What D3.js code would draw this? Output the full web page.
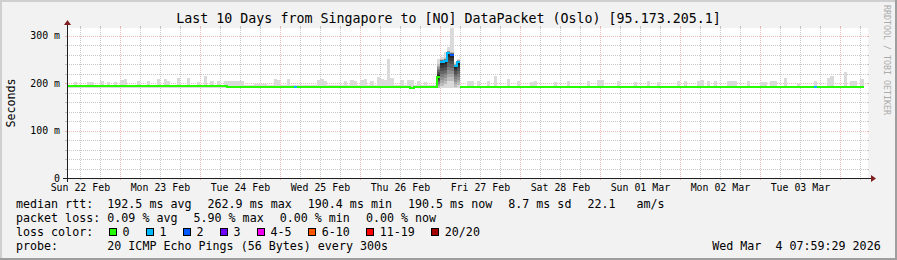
<!DOCTYPE html>
<html>
<head>
<meta charset="utf-8">
<script src="https://cdn.jsdelivr.net/npm/d3@7"></script>
<style>
  html, body { margin: 0; padding: 0; background: #f2f2f2; }
  svg { display: block; font-family: "DejaVu Sans Mono", monospace; }
  text { white-space: pre; }
</style>
</head>
<body>
<svg id="chart" width="897" height="260"></svg>
<script>
const title = "Last 10 Days from Singapore to [NO] DataPacket (Oslo) [95.173.205.1]";
const rangeStart = "2026-02-22T07:59:29Z";
const rangeEnd = "2026-03-04T07:59:29Z";

// hourly median rtt (ms), one row per day starting at rangeStart
const medianMs = [
  193,193,193,193,193,193,193,193,193,193,193,193,193,193,193,193,193,193,193,193,193,193,193,193,
  193,193,193,193,193,193,193,193,193,193,193,193,193,193,193,193,193,193,193,193,193,193,193,193,
  192.5,192.5,192.5,192.5,192.5,192.5,192.5,192.5,192.5,192.5,192.5,192.5,192.5,192.5,192.5,192.5,192.5,192.5,192.5,192.5,192.5,192.5,192.5,192.5,
  192.5,192.5,192.5,192.5,192.5,192.5,192.5,192.5,192.5,192.5,192.5,192.5,192.5,192.5,192.5,192.5,192.5,192.5,192.5,192.5,192.5,192.5,192.5,192.5,
  192.5,192.5,192.5,192.5,192.5,192.5,192.5,189.5,192.5,192.5,192.5,192.5,192.5,192.5,192.5,213,245,246,263,260,236,245,191.5,191.5,
  191.5,191.5,191.5,191.5,191.5,191.5,191.5,191.5,191.5,191.5,191.5,191.5,191.5,191.5,191.5,191.5,191.5,191.5,191.5,191.5,191.5,191.5,191.5,191.5,
  191.5,191.5,191.5,191.5,191.5,191.5,191.5,191.5,191.5,191.5,191.5,191.5,191.5,191.5,191.5,191.5,191.5,191.5,191.5,191.5,191.5,191.5,191.5,191.5,
  191.5,191.5,191.5,191.5,191.5,191.5,191.5,191.5,191.5,191.5,191.5,191.5,191.5,191,191,191,191,191,191,191,191,191,191,191,
  191,191,191,191,191,191,191,191,191,191,191,191,191,191,191,191,191,191,191,191,191,191,191,191,
  191,191,191,191,191,191,191,191,191,191,191,191,191,191,191,191,191,191,191,191,191,191,191
];

// hourly max ping (top of the light smoke), ms
const smokeHiMs = [
  195,195,202,195,195,195,202,202,195,195,204,195,202,195,202,195,206,209,195,195,195,204,195,195,
  204,195,195,208,195,208,204,195,195,211,195,195,211,195,195,202,195,215,195,205,195,204,195,205,
  204,204,205,204,204,195,195,195,198,198,198,198,195,195,208,206,195,195,208,195,195,195,195,195,
  195,195,195,206,208,204,195,195,195,195,195,204,195,206,204,195,206,208,195,204,195,213,208,206,
  251,211,195,195,206,195,206,206,195,204,195,202,195,195,195,250,255,265,275,316,245,250,193,193,
  204,204,193,204,193,193,205,193,215,193,193,193,208,193,193,204,193,193,193,203,204,193,193,193,
  193,193,203,193,193,193,204,193,193,193,193,193,204,193,193,206,206,193,193,193,193,204,193,193,
  193,193,203,193,193,193,204,193,193,203,193,193,193,193,193,204,193,205,193,193,193,204,206,193,
  204,193,204,193,193,193,204,204,204,193,193,193,205,193,193,193,202,202,193,205,205,193,193,211,
  193,193,193,198,193,193,193,193,204,193,193,193,210,215,193,193,193,223,193,204,204,193,208
];
const smokeFloorMs = 189;

// dark smoke core during the spike
const coreHours = [111, 112, 113, 114, 115, 116, 117];
const coreLoMs = [190, 193, 198, 205, 205, 192, 195];
const coreHiMs = [240, 250, 252, 268, 265, 240, 248];

// hours with packet loss (pings lost out of 20)
const lossHours = [68, 112, 113, 114, 115, 116, 117, 224];
const lossCounts = [1, 1, 1, 1, 2, 1, 1, 1];

const yTickValues = [0, 100, 200, 300];
const yTickLabels = ["0", "100 m", "200 m", "300 m"];

const lossLabels = ["0", "1", "2", "3", "4-5", "6-10", "11-19", "20/20"];
const lossColors = ["#26ff00", "#00b8ff", "#0059ff", "#7000ff", "#f000f0", "#ff5500", "#ff0000", "#a00000"];

const rttStats = ["192.5 ms avg", "262.9 ms max", "190.4 ms min", "190.5 ms now", "8.7 ms sd", "22.1   am/s"];
const lossStats = ["0.09 % avg", "5.90 % max", "0.00 % min", "0.00 % now"];
const probeText = "20 ICMP Echo Pings (56 Bytes) every 300s";
const stamp = "Wed Mar  4 07:59:29 2026";

// ---------------------------------------------------------------
const W = 897, H = 260;
const X0 = 67, X1 = 867, Y0 = 178, Y1 = 28;
const CW = 7.02; // mono char advance at legend size
const px = v => Math.round(v) + 0.5;

const t0 = new Date(rangeStart), t1 = new Date(rangeEnd);
const hourT = i => d3.utcHour.offset(t0, i);

const x = d3.scaleUtc().domain([t0, t1]).range([X0, X1]);
const y = d3.scaleLinear().domain([0, 316]).range([Y0, Y1]);

const lossByHour = new Map(lossHours.map((h, k) => [h, lossCounts[k]]));
const lossColor = n => n === 0 ? lossColors[0] : n <= 3 ? lossColors[n] : n <= 5 ? lossColors[4] :
  n <= 10 ? lossColors[5] : n <= 19 ? lossColors[6] : lossColors[7];

const svg = d3.select("#chart");

// frame
svg.append("rect").attr("width", W).attr("height", H).attr("fill", "#f2f2f2");
svg.append("rect").attr("x", 0).attr("y", 0).attr("width", W).attr("height", 2).attr("fill", "#cfcfcf");
svg.append("rect").attr("x", 0).attr("y", 0).attr("width", 2).attr("height", H).attr("fill", "#cfcfcf");
svg.append("rect").attr("x", 0).attr("y", H - 2).attr("width", W).attr("height", 2).attr("fill", "#9e9e9e");
svg.append("rect").attr("x", W - 2).attr("y", 0).attr("width", 2).attr("height", H).attr("fill", "#9e9e9e");

// canvas
svg.append("rect").attr("x", X0).attr("y", Y1).attr("width", X1 - X0 + 1).attr("height", Y0 - Y1 + 1)
  .attr("fill", "#ffffff");

// grid
const grid = svg.append("g").attr("shape-rendering", "crispEdges");
const minorCol = "rgba(143,143,143,0.5)", majorCol = "rgba(222,79,79,0.4)";

const hVals = d3.range(20, 316, 20);
hVals.forEach(v => {
  const col = v % 100 === 0 ? majorCol : minorCol;
  const yy = px(y(v));
  grid.append("line").attr("x1", X0).attr("x2", X1).attr("y1", yy).attr("y2", yy)
    .attr("stroke", col).attr("stroke-dasharray", "1,1");
  grid.append("line").attr("x1", X0 - 2).attr("x2", X0).attr("y1", yy).attr("y2", yy).attr("stroke", col);
  grid.append("line").attr("x1", X1).attr("x2", X1 + 2).attr("y1", yy).attr("y2", yy).attr("stroke", col);
});

const days = d3.utcDay.range(t0, t1);
const sixHours = d3.utcHour.every(6).range(t0, t1).filter(d => d.getUTCHours() !== 0);
[[sixHours, minorCol], [days, majorCol]].forEach(([ts, col]) => {
  ts.forEach(d => {
    const xx = px(x(d));
    grid.append("line").attr("x1", xx).attr("x2", xx).attr("y1", Y1).attr("y2", Y0)
      .attr("stroke", col).attr("stroke-dasharray", "1,1");
    grid.append("line").attr("x1", xx).attr("x2", xx).attr("y1", Y0).attr("y2", Y0 + 2).attr("stroke", col);
    grid.append("line").attr("x1", xx).attr("x2", xx).attr("y1", Y1 - 2).attr("y2", Y1).attr("stroke", col);
  });
});

// smoke
const smoke = svg.append("g").attr("shape-rendering", "crispEdges");
smoke.selectAll("rect.outer")
  .data(smokeHiMs)
  .join("rect")
    .attr("class", "outer")
    .attr("x", (d, i) => Math.round(x(hourT(i))))
    .attr("width", (d, i) => Math.round(x(hourT(i + 1))) - Math.round(x(hourT(i))))
    .attr("y", d => Math.round(y(d)))
    .attr("height", d => Math.max(0, Math.round(y(smokeFloorMs)) - Math.round(y(d))))
    .attr("fill", "#dadada");

const layers = 8;
const shade = d3.scaleLinear().domain([0, layers - 1]).range(["#bcbcbc", "#262626"]);
coreHours.forEach((h, k) => {
  const med = medianMs[h];
  for (let l = 0; l < layers; l++) {
    const lo = coreLoMs[k] + (med - coreLoMs[k]) * l / layers;
    const hi = coreHiMs[k] - (coreHiMs[k] - med) * l / layers;
    const xa = Math.round(x(hourT(h))), xb = Math.round(x(hourT(h + 1)));
    smoke.append("rect")
      .attr("x", xa).attr("width", xb - xa)
      .attr("y", Math.round(y(hi)))
      .attr("height", Math.max(1, Math.round(y(lo)) - Math.round(y(hi))))
      .attr("fill", shade(l));
  }
});

// median line, coloured by loss
const med = svg.append("g").attr("shape-rendering", "crispEdges");
medianMs.forEach((v, i) => {
  const c = lossColor(lossByHour.get(i) || 0);
  const xa = Math.round(x(hourT(i))), xb = Math.round(x(hourT(i + 1)));
  const yy = Math.round(y(v));
  med.append("rect").attr("x", xa).attr("width", xb - xa).attr("y", yy - 1).attr("height", 2).attr("fill", c);
  if (i > 0) {
    const pc = lossColor(lossByHour.get(i - 1) || 0);
    const py = Math.round(y(medianMs[i - 1]));
    if (pc === c && py !== yy) {
      med.append("rect").attr("x", xa - 1).attr("width", 2)
        .attr("y", Math.min(py, yy) - 1).attr("height", Math.abs(py - yy) + 2).attr("fill", c);
    }
  }
});

// axes
const axis = svg.append("g").attr("shape-rendering", "crispEdges");
axis.append("line").attr("x1", X0 - 4).attr("x2", X1 + 4).attr("y1", px(Y0)).attr("y2", px(Y0)).attr("stroke", "#1f1f1f");
axis.append("line").attr("x1", px(X0)).attr("x2", px(X0)).attr("y1", Y0 + 4).attr("y2", Y1 - 4).attr("stroke", "#1f1f1f");
svg.append("path").attr("fill", "#801f1f")
  .attr("d", `M${X1 + 4},${Y0 - 3}L${X1 + 4},${Y0 + 4}L${X1 + 9},${Y0 + 0.5}Z`);
svg.append("path").attr("fill", "#801f1f")
  .attr("d", `M${X0 - 3},${Y1 - 3}L${X0 + 4},${Y1 - 3}L${X0 + 0.5},${Y1 - 8}Z`);

// y tick labels
svg.append("g").selectAll("text")
  .data(yTickValues)
  .join("text")
    .attr("x", 60)
    .attr("y", d => y(d) + 3.5)
    .attr("text-anchor", "end")
    .attr("font-size", "9.9px")
    .text((d, i) => yTickLabels[i]);

// x tick labels at noon of each day
svg.append("g").selectAll("text")
  .data(days.map(d => d3.utcHour.offset(d, -12)))
  .join("text")
    .attr("x", d => x(d))
    .attr("y", 190.5)
    .attr("text-anchor", "middle")
    .attr("font-size", "9.9px")
    .text(d3.utcFormat("%a %d %b"));

// title and axis labels
svg.append("text").attr("x", 448.5).attr("y", 23).attr("text-anchor", "middle")
  .attr("font-size", "13.3px").text(title);
svg.append("text").attr("transform", "translate(15,103) rotate(-90)").attr("text-anchor", "middle")
  .attr("font-size", "11.66px").text("Seconds");
svg.append("text").attr("transform", "translate(884,60) rotate(90)").attr("text-anchor", "middle")
  .attr("font-size", "8.3px").attr("fill", "#ababab").text("RRDTOOL / TOBI OETIKER");

// legend
const leg = svg.append("g").attr("font-size", "11.66px");
const row = (label, items, yy) => {
  leg.append("text").attr("x", 16).attr("y", yy).text(label);
  let cx = 107.3;
  items.forEach(s => {
    leg.append("text").attr("x", cx).attr("y", yy).text(s);
    cx += s.length * CW + 16;
  });
};
row("median rtt:", rttStats, 208);
row("packet loss:", lossStats, 222);

leg.append("text").attr("x", 16).attr("y", 236).text("loss color:");
let bx = 108.5;
lossLabels.forEach((s, k) => {
  leg.append("rect").attr("x", bx + 0.5).attr("y", 228.5).attr("width", 7).attr("height", 7)
    .attr("fill", lossColors[k]).attr("stroke", "#000").attr("shape-rendering", "crispEdges");
  leg.append("text").attr("x", bx + 14).attr("y", 236).text(s);
  bx += 14 + s.length * CW + 16;
});

leg.append("text").attr("x", 16).attr("y", 250).text("probe:");
leg.append("text").attr("x", 107.3).attr("y", 250).text(probeText);
leg.append("text").attr("x", 880.7).attr("y", 250).attr("text-anchor", "end").text(stamp);
</script>
</body>
</html>
